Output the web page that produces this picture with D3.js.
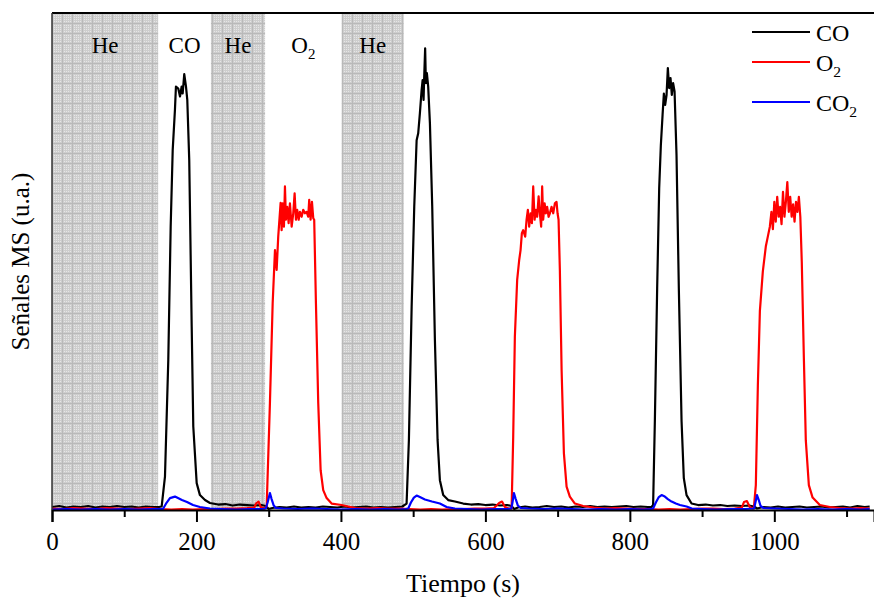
<!DOCTYPE html>
<html>
<head>
<meta charset="utf-8">
<script src="https://cdn.jsdelivr.net/npm/d3@7"></script>
<style>
  body { margin: 0; background: #fff; }
  svg { display: block; font-family: "Liberation Serif", "DejaVu Serif", serif; }
</style>
</head>
<body>
<div id="chart"></div>
<script>

// gas pulses (s) -- shaded ones are He
var pulseStart = [0, 147, 220, 295, 401];
var pulseEnd   = [147, 220, 295, 401, 487];
var pulseGas   = ["He", "CO", "He", "O2", "He"];

var xTicks = [0, 200, 400, 600, 800, 1000];
var xMinor = [100, 300, 500, 700, 900, 1100];

// [tiempo (s), señal (u.a.)]
var coData = [[0,0.6],[10,0.8],[20,0.5],[30,0.7],[40,0.6],[50,0.8],[60,0.5],[70,0.7],[80,0.6],[90,0.8],[100,0.6],[110,0.7],[120,0.5],[130,0.7],[140,0.6],[148,0.6],
  [151.8,0.7],[156.4,6.7],[161.0,30.2],[164.3,57.0],[167.1,72.4],[170.2,80.5],[171.6,85.2],[174.8,84.8],[177.2,83.2],[179.5,85.2],[180.9,83.8],[183.1,87.7],[185.5,85.2],[187.3,82.5],[190.0,70.4],[193.4,36.9],[195.6,16.8],[200.3,5.4],[204.8,3.0],[211.8,2.0],[218.7,1.4],
  [230,1.1],[240,1.2],[250,0.9],[260,1.1],[270,1.0],[280,0.9],[290,1.0],[296,0.8],[300,0.2],[305,0.4],[315,0.6],[325,0.5],[335,0.7],[345,0.5],[355,0.6],[365,0.5],[375,0.7],[385,0.6],[395,0.5],[405,0.7],[415,0.5],[425,0.6],[435,0.7],[445,0.5],[455,0.6],[465,0.5],[475,0.6],[485,0.7],
  [490.9,1.3],[494.1,14.1],[497.9,40.9],[501.5,61.0],[504.8,74.4],[507.0,75.8],[509.3,79.8],[511.7,84.5],[513.1,86.5],[514.4,82.5],[515.3,87.2],[516.6,92.9],[517.6,85.9],[519.0,87.9],[520.8,85.2],[523.2,77.8],[526.4,61.0],[530.1,34.2],[533.8,14.1],[537.0,6.0],[541.6,3.0],[548.5,2.0],[557.8,1.7],[569.3,1.3],
  [580,1.1],[590,1.2],[600,1.0],[610,1.1],[620,0.9],[630,1.0],[636,0.8],[640,0.2],[645,0.5],[655,0.7],[665,0.5],[675,0.6],[685,0.8],[695,0.6],[705,0.7],[715,0.5],[725,0.7],[735,0.6],[745,0.8],[755,0.6],[765,0.7],[775,0.6],[785,0.7],[795,0.8],[805,0.6],[815,0.7],[825,0.6],
  [830.0,0.6],[832.2,1.0],[834.6,17.8],[837.8,44.6],[840.6,64.7],[842.9,73.4],[845.3,79.5],[847.1,83.8],[848.9,81.5],[850.8,83.5],[852.6,88.9],[854.4,84.9],[856.3,86.9],[858.1,83.5],[859.9,85.9],[861.9,84.2],[864.6,71.4],[867.8,44.6],[871.6,17.8],[874.7,6.4],[878.5,3.0],[885.4,1.3],[894.5,1.0],
  [905,1.1],[915,0.9],[925,1.0],[935,0.8],[945,0.9],[955,0.8],[965,0.9],[972,0.7],[976,0.3],[985,0.6],[995,0.5],[1005,0.7],[1015,0.5],[1025,0.6],[1035,0.7],[1045,0.5],[1055,0.6],[1065,0.7],[1075,0.5],[1085,0.6],[1095,0.7],[1105,0.5],[1115,0.8],[1125,0.6],[1132,0.7]];

var o2Data = [[0,0.3],[15,0.2],[30,0.4],[45,0.3],[60,0.2],[75,0.4],[90,0.3],[105,0.2],[120,0.3],[135,0.4],[150,0.2],[165,0.1],[180,0.2],[195,0.1],[210,0.2],[225,0.2],[240,0.3],[255,0.3],[270,0.4],[280,0.5],[283,1.4],[286,1.7],[289,0.6],[294,0.3],
  [297.2,0.7],[301.7,21.5],[305.5,41.6],[308.7,52.3],[311.0,48.3],[313.2,55.0],[316.5,61.8],[317.9,56.3],[319.3,61.7],[321.1,57.0],[322.5,65.1],[323.9,58.4],[325.7,61.0],[327.6,57.7],[329.4,61.7],[331.8,57.0],[334.0,59.7],[335.9,63.7],[337.7,58.4],[339.5,60.4],[341.5,58.4],[343.3,60.0],[345.6,59.0],[347.8,60.4],[350.2,59.7],[352.5,60.0],[354.7,59.0],[356.1,62.4],[358.0,58.4],[359.9,62.0],[361.7,58.7],[363.0,58.4],
  [365.4,41.6],[368.6,21.5],[371.9,8.0],[375.5,4.0],[380.2,2.4],[387.1,1.3],[401,1.0],[410,0.7],[420,0.4],[435,0.3],[450,0.4],[465,0.3],[480,0.3],[495,0.2],[510,0.1],[525,0.2],[540,0.1],[555,0.2],[570,0.2],[585,0.3],[600,0.3],[612,0.4],[619,1.4],[623,1.7],[627,0.6],[632,0.3],
  [636.3,0.3],[638.5,14.7],[640.8,34.9],[644.0,46.3],[646.8,50.3],[648.7,52.3],[650.5,55.7],[652.3,56.3],[655.1,55.0],[657.0,58.4],[658.8,60.4],[660.6,57.0],[662.6,59.7],[664.4,57.7],[666.2,65.1],[668.1,58.4],[669.9,60.4],[671.7,59.0],[673.7,63.1],[675.4,59.7],[677.2,57.0],[678.6,65.1],[680.0,58.4],[682.0,61.7],[683.7,59.7],[685.5,61.0],[687.5,59.0],[689.3,59.7],[691.6,61.0],[693.9,59.7],[696.2,61.7],[698.5,62.0],[699.9,59.7],[701.3,58.4],
  [703.1,48.3],[705.5,28.2],[708.7,11.4],[712.4,4.7],[716.9,2.7],[723.9,1.3],[735.4,0.8],[750,0.5],[765,0.3],[780,0.4],[795,0.3],[810,0.2],[825,0.2],[840,0.1],[855,0.2],[870,0.1],[885,0.2],[900,0.3],[915,0.3],[930,0.2],[945,0.3],[955,0.5],[958,1.6],[962,1.8],[966,0.6],[970,0.3],
  [971.6,0.3],[974.4,5.0],[977.2,25.0],[980.0,40.0],[984.1,48.0],[988.2,53.0],[991.0,55.0],[993.8,57.0],[996,60.0],[998,56.5],[1000,62.0],[1002,58.0],[1004,63.0],[1006,59.0],[1008,61.0],[1010,57.5],[1012,64.0],[1014,59.0],[1016,62.0],[1018,66.0],[1020,60.0],[1022,63.0],[1024,59.0],[1026,61.5],[1028,58.0],[1030,62.0],[1032,60.0],[1034,63.0],[1036,59.0],
  [1038,50.0],[1041,30.0],[1043.6,14.0],[1047.8,5.0],[1053,2.5],[1063,1.0],[1077,0.6],[1090,0.4],[1105,0.3],[1120,0.4],[1132,0.3]];

var co2Data = [[0,0.1],[20,0.2],[40,0.1],[60,0.2],[80,0.1],[100,0.2],[120,0.1],[140,0.2],[153.6,0.2],[158.8,1.5],[163.3,2.4],[170.2,2.7],[174.4,2.4],[179.9,2.0],[186.9,1.6],[195.2,1.0],[204.8,0.6],[218.7,0.3],[235,0.2],[255,0.1],[275,0.2],[290,0.2],
  [296,0.3],[298.5,1.5],[301.7,3.4],[304,2.2],[307,0.9],[310,0.4],[320,0.3],[340,0.2],[360,0.3],[380,0.2],[400,0.1],[420,0.2],[440,0.1],[460,0.2],[480,0.1],[490,0.2],
  [493.2,0.3],[496.9,1.5],[501.0,2.5],[504.8,2.9],[509.3,2.6],[516.3,2.1],[526,1.7],[537,1.3],[546.3,0.6],[557.8,0.3],[575,0.2],[595,0.1],[615,0.2],[630,0.2],
  [636,0.3],[637.5,1.5],[639.5,3.4],[642,2.2],[645,0.9],[649,0.4],[660,0.3],[680,0.2],[700,0.3],[720,0.2],[740,0.1],[760,0.2],[780,0.1],[800,0.2],[820,0.1],[828,0.2],
  [832.2,0.3],[836,1.5],[840.1,2.6],[843.9,3.0],[848.4,2.7],[852.6,2.2],[857.7,1.7],[863.7,1.3],[869.3,1.0],[878.5,0.7],[885.8,0.3],[900,0.2],[920,0.1],[940,0.2],[960,0.2],
  [972,0.3],[974,1.6],[976,3.0],[978.5,2.0],[981,0.8],[985,0.4],[1000,0.3],[1020,0.2],[1040,0.1],[1060,0.2],[1080,0.1],[1100,0.2],[1120,0.1],[1132,0.2]];

var seriesNames = ["CO", "O2", "CO2"];
var seriesColors = ["#000000", "#ff0000", "#0000ff"];

var W = 874, H = 600;
var margin = {top: 13, right: 0, bottom: 90, left: 52};

var x = d3.scaleLinear().domain([0, 1138]).range([margin.left, W - margin.right]);
var y = d3.scaleLinear().domain([0, 100]).range([H - margin.bottom, margin.top]);

var svg = d3.select("#chart").append("svg")
    .attr("width", W)
    .attr("height", H);

// hatched grey fill for the He steps
var defs = svg.append("defs");
var dots = defs.append("pattern")
    .attr("id", "dots")
    .attr("patternUnits", "userSpaceOnUse")
    .attr("width", 2).attr("height", 2);
dots.append("rect").attr("width", 2).attr("height", 2).attr("fill", "#cdcdcd");
dots.append("rect").attr("width", 1).attr("height", 1).attr("fill", "#e6e6e6");

var grid = defs.append("pattern")
    .attr("id", "grid")
    .attr("patternUnits", "userSpaceOnUse")
    .attr("x", margin.left).attr("y", margin.top)
    .attr("width", 10).attr("height", 10);
grid.append("rect").attr("width", 10).attr("height", 10).attr("fill", "url(#dots)");
grid.append("path").attr("d", "M0.5,0V10M0,0.5H10")
    .attr("stroke", "#b9b9b9").attr("stroke-width", 1);

var pulses = pulseStart.map(function(s, i) { return {s: s, e: pulseEnd[i], gas: pulseGas[i]}; });

svg.selectAll(".band")
    .data(pulses.filter(function(d) { return d.gas == "He"; }))
    .enter().append("rect")
    .attr("class", "band")
    .attr("x", function(d) { return x(d.s); })
    .attr("y", y(100))
    .attr("width", function(d) { return x(d.e) - x(d.s); })
    .attr("height", y(0) - y(100))
    .attr("fill", "url(#grid)");

// gas labels, O2 / CO2 with subscript
function gasText(sel, name) {
  var base = name.replace("2", "");
  sel.append("tspan").text(base);
  if (name.indexOf("2") > -1) {
    sel.append("tspan").attr("dy", 6).attr("font-size", "0.65em").text("2");
  }
}

svg.selectAll(".gas")
    .data(pulses)
    .enter().append("text")
    .attr("class", "gas")
    .attr("x", function(d) { return (x(d.s) + x(d.e)) / 2; })
    .attr("y", 53)
    .attr("text-anchor", "middle")
    .attr("font-size", 23)
    .each(function(d) { gasText(d3.select(this), d.gas); });

// signals
var line = d3.line()
    .x(function(d) { return x(d[0]); })
    .y(function(d) { return y(d[1]); });

[coData, o2Data, co2Data].forEach(function(data, i) {
  svg.append("path")
      .datum(data)
      .attr("fill", "none")
      .attr("stroke", seriesColors[i])
      .attr("stroke-width", 2.2)
      .attr("stroke-linejoin", "round")
      .attr("d", line);
});

// axes
var xAxis = svg.append("g")
    .attr("transform", "translate(0," + y(0) + ")")
    .call(d3.axisBottom(x).tickValues(xTicks).tickSize(12).tickPadding(10).tickFormat(d3.format("d")));
xAxis.select(".domain").attr("stroke-width", 2);
xAxis.selectAll(".tick line").attr("stroke-width", 2);
xAxis.selectAll(".tick text").attr("font-size", 25).attr("font-family", "Liberation Serif, serif");

svg.append("g")
    .attr("transform", "translate(0," + y(0) + ")")
    .call(d3.axisBottom(x).tickValues(xMinor).tickSize(7).tickFormat(""))
    .call(function(g) { g.select(".domain").remove(); })
    .selectAll(".tick line").attr("stroke-width", 2);

svg.append("line")
    .attr("x1", x(0)).attr("x2", W)
    .attr("y1", y(100)).attr("y2", y(100))
    .attr("stroke", "#000").attr("stroke-width", 2);

svg.append("line")
    .attr("x1", x(0)).attr("x2", x(0))
    .attr("y1", y(100)).attr("y2", y(0))
    .attr("stroke", "#333").attr("stroke-width", 1.5);

svg.append("text")
    .attr("x", (x(0) + W) / 2)
    .attr("y", 592)
    .attr("text-anchor", "middle")
    .attr("font-size", 26)
    .text("Tiempo (s)");

svg.append("text")
    .attr("transform", "translate(29," + ((y(0) + y(100)) / 2) + ") rotate(-90)")
    .attr("text-anchor", "middle")
    .attr("font-size", 25)
    .text("Señales MS (u.a.)");

// legend
var legendY = [32, 62, 102];
var legend = svg.selectAll(".legend")
    .data(seriesNames)
    .enter().append("g")
    .attr("class", "legend")
    .attr("transform", function(d, i) { return "translate(752," + legendY[i] + ")"; });

legend.append("line")
    .attr("x1", 0).attr("x2", 58)
    .attr("stroke", function(d, i) { return seriesColors[i]; })
    .attr("stroke-width", 2);

legend.append("text")
    .attr("x", 64)
    .attr("y", 9)
    .attr("font-size", 24)
    .each(function(d) { gasText(d3.select(this), d); });

</script>
</body>
</html>
